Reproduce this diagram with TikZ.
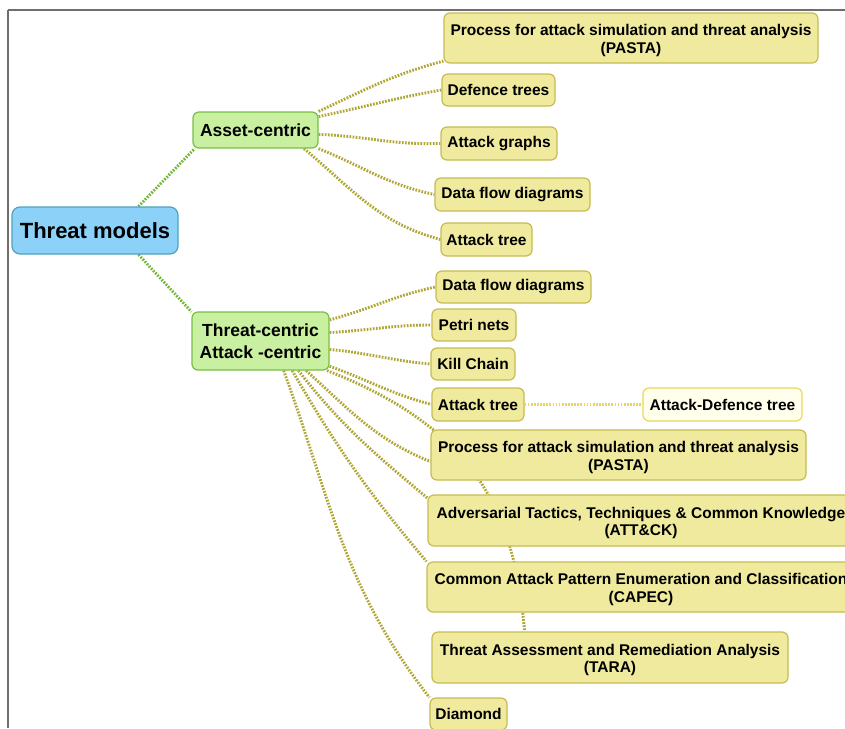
\documentclass[tikz,border=0pt]{standalone}
\usepackage{fontspec}
\setmainfont{Liberation Sans}
\usetikzlibrary{backgrounds}

\definecolor{leaffill}{RGB}{239,234,158}
\definecolor{leafdraw}{RGB}{198,188,82}
\definecolor{adtfill}{RGB}{255,255,236}
\definecolor{adtdraw}{RGB}{232,216,90}
\definecolor{branchfill}{RGB}{200,240,160}
\definecolor{branchdraw}{RGB}{120,190,70}
\definecolor{rootfill}{RGB}{140,210,248}
\definecolor{rootdraw}{RGB}{80,160,190}
\definecolor{olivelink}{RGB}{176,166,52}
\definecolor{greenlink}{RGB}{112,184,52}
\definecolor{framegray}{RGB}{110,110,110}

% two-line caption, set a little below the middle of its box
\newcommand\twoline[2]{\raisebox{-3pt}[\height][\depth]{\begin{tabular}{@{}c@{}}#1\\#2\end{tabular}}}

\tikzset{
  box/.style={rounded corners=6pt, inner sep=0pt, align=center, line width=1.2pt,
    font=\fontsize{15.5}{17.5}\selectfont\bfseries},
  leaf/.style={box, fill=leaffill, draw=leafdraw},
  adtleaf/.style={box, fill=adtfill, draw=adtdraw},
  branch/.style={box, fill=branchfill, draw=branchdraw,
    font=\fontsize{17.5}{22}\selectfont\bfseries},
  rootbox/.style={box, rounded corners=8pt, fill=rootfill, draw=rootdraw,
    font=\fontsize{22}{26}\selectfont\bfseries},
  link/.style={draw=olivelink, line width=2.9pt, dash pattern=on 1.7pt off 1.4pt},
  rootlink/.style={link, draw=greenlink},
  adtlink/.style={link, draw=adtdraw, line width=2.6pt},
  dims/.style 2 args={minimum width=#1pt, minimum height=#2pt}
}

\begin{document}
\begin{tikzpicture}[x=1pt, y=-1pt]
\clip (0,0) rectangle (845,728);

% central topic and the two main branches
\node[rootbox, dims={166}{47}] (root) at (95,230.5) {Threat models};
\node[branch, dims={125}{36}] (asset) at (255.5,130) {Asset-centric};
\node[branch, dims={137}{58}] (threat) at (260.5,341) {Threat-centric\\Attack -centric};

% asset-centric models
\node[leaf, dims={374}{50}] (a1) at (631,38) {\twoline{Process for attack simulation and threat analysis}{(PASTA)}};
\node[leaf, dims={113}{32}] (a2) at (498.5,90) {Defence trees};
\node[leaf, dims={116}{33}] (a3) at (499,143.5) {Attack graphs};
\node[leaf, dims={155}{33}] (a4) at (512.5,194.5) {Data flow diagrams};
\node[leaf, dims={91}{33}] (a5) at (486.5,239.5) {Attack tree};

% threat-centric / attack-centric models
\node[leaf, dims={155}{32}] (t1) at (513.5,287) {Data flow diagrams};
\node[leaf, dims={84}{32}] (t2) at (474,325) {Petri nets};
\node[leaf, dims={84}{32}] (t3) at (473,364) {Kill Chain};
\node[leaf, dims={92}{33}] (t4) at (478,404.5) {Attack tree};
\node[adtleaf, dims={159}{33}] (t4b) at (722.5,404.5) {Attack-Defence tree};
\node[leaf, dims={375}{50}] (t5) at (618.5,455) {\twoline{Process for attack simulation and threat analysis}{(PASTA)}};
\node[leaf, dims={426}{51}] (t6) at (641,520.5) {\twoline{Adversarial Tactics, Techniques \& Common Knowledge}{(ATT\&CK)}};
\node[leaf, dims={428}{50}] (t7) at (641,587) {\twoline{Common Attack Pattern Enumeration and Classification}{(CAPEC)}};
\node[leaf, dims={356}{51}] (t8) at (610,657.5) {\twoline{Threat Assessment and Remediation Analysis}{(TARA)}};
\node[leaf, dims={77}{32}] (t9) at (468.5,714) {Diamond};

\begin{scope}[on background layer]
  \fill[white] (0,0) rectangle (845,728);
  % page frame
  \draw[framegray, line width=2pt] (8,9.5) -- (845,9.5);
  \draw[framegray, line width=1.5pt] (8,9.5) -- (8,728);

  % root to branches
  \draw[rootlink] (root.29) -- (asset.197);
  \draw[rootlink] (root.-29) -- (threat.157);

  % asset-centric links
  \draw[link] (asset.north east) to[out=25, in=195] (a1.187);
  \draw[link] (asset.12) to[out=12, in=190] (a2.west);
  \draw[link] (asset.-4) to[out=-2, in=182] (a3.west);
  \draw[link] (asset.south east) to[out=-22, in=168] (a4.west);
  \draw[link] (asset.-21) to[out=-40, in=165] (a5.west);

  % threat-centric links
  \draw[link] (threat.17) to[out=15, in=192] (t1.west);
  \draw[link] (threat.7) to[out=3, in=180] (t2.west);
  \draw[link] (threat.-7) to[out=-5, in=175] (t3.west);
  \draw[link] (threat.-20) to[out=-20, in=165] (t4.west);
  \draw[link] (threat.-24) .. controls +(155,60) and +(-10,-112) .. (t8.163);
  \draw[link] (threat.-33) to[out=-42, in=158] (t5.182);
  \draw[link] (threat.-38) to[out=-52, in=140] (t6.174);
  \draw[link] (threat.-43) to[out=-60, in=130] (t7.north west);
  \draw[link] (threat.-52) to[out=-70, in=128] (t9.north west);

  % attack tree extension
  \draw[adtlink] (t4.east) -- (t4b.west);
\end{scope}
\end{tikzpicture}
\end{document}
